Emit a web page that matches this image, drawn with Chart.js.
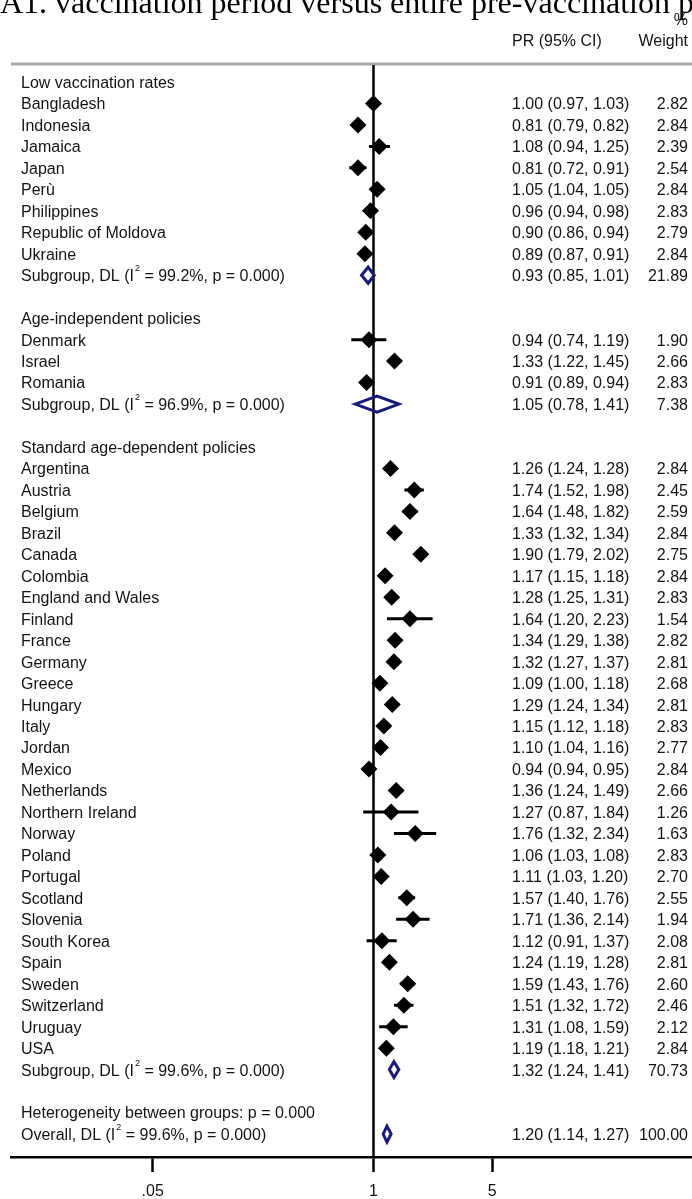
<!DOCTYPE html>
<html>
<head>
<meta charset="utf-8">
<title>Forest plot - PR</title>
<script src="https://cdn.jsdelivr.net/npm/chart.js@4.4.1/dist/chart.umd.min.js"></script>
<style>
  html, body { margin: 0; padding: 0; background: #fff; }
  #wrap { width: 692px; height: 1199px; }
</style>
</head>
<body>
<div id="wrap"><canvas id="forest" width="692" height="1199"></canvas></div>
<script>
// Données
const titleText = 'A1. vaccination period versus entire pre-vaccination p';

const rowLabels = [
    'Low vaccination rates',
    'Bangladesh', 'Indonesia', 'Jamaica', 'Japan', 'Perù', 'Philippines',
    'Republic of Moldova', 'Ukraine',
    'Subgroup, DL (I² = 99.2%, p = 0.000)',
    '',
    'Age-independent policies',
    'Denmark', 'Israel', 'Romania',
    'Subgroup, DL (I² = 96.9%, p = 0.000)',
    '',
    'Standard age-dependent policies',
    'Argentina', 'Austria', 'Belgium', 'Brazil', 'Canada', 'Colombia',
    'England and Wales', 'Finland', 'France', 'Germany', 'Greece', 'Hungary',
    'Italy', 'Jordan', 'Mexico', 'Netherlands', 'Northern Ireland', 'Norway',
    'Poland', 'Portugal', 'Scotland', 'Slovenia', 'South Korea', 'Spain',
    'Sweden', 'Switzerland', 'Uruguay', 'USA',
    'Subgroup, DL (I² = 99.6%, p = 0.000)',
    '',
    'Heterogeneity between groups: p = 0.000',
    'Overall, DL (I² = 99.6%, p = 0.000)'
];

const pr = [
    null,
    1.00, 0.81, 1.08, 0.81, 1.05, 0.96, 0.90, 0.89,
    0.93,
    null, null,
    0.94, 1.33, 0.91,
    1.05,
    null, null,
    1.26, 1.74, 1.64, 1.33, 1.90, 1.17, 1.28, 1.64, 1.34, 1.32, 1.09, 1.29,
    1.15, 1.10, 0.94, 1.36, 1.27, 1.76, 1.06, 1.11, 1.57, 1.71, 1.12, 1.24,
    1.59, 1.51, 1.31, 1.19,
    1.32,
    null, null,
    1.20
];

const lowerCI = [
    null,
    0.97, 0.79, 0.94, 0.72, 1.04, 0.94, 0.86, 0.87,
    0.85,
    null, null,
    0.74, 1.22, 0.89,
    0.78,
    null, null,
    1.24, 1.52, 1.48, 1.32, 1.79, 1.15, 1.25, 1.20, 1.29, 1.27, 1.00, 1.24,
    1.12, 1.04, 0.94, 1.24, 0.87, 1.32, 1.03, 1.03, 1.40, 1.36, 0.91, 1.19,
    1.43, 1.32, 1.08, 1.18,
    1.24,
    null, null,
    1.14
];

const upperCI = [
    null,
    1.03, 0.82, 1.25, 0.91, 1.05, 0.98, 0.94, 0.91,
    1.01,
    null, null,
    1.19, 1.45, 0.94,
    1.41,
    null, null,
    1.28, 1.98, 1.82, 1.34, 2.02, 1.18, 1.31, 2.23, 1.38, 1.37, 1.18, 1.34,
    1.18, 1.16, 0.95, 1.49, 1.84, 2.34, 1.08, 1.20, 1.76, 2.14, 1.37, 1.28,
    1.76, 1.72, 1.59, 1.21,
    1.41,
    null, null,
    1.27
];

const weights = [
    null,
    2.82, 2.84, 2.39, 2.54, 2.84, 2.83, 2.79, 2.84,
    21.89,
    null, null,
    1.90, 2.66, 2.83,
    7.38,
    null, null,
    2.84, 2.45, 2.59, 2.84, 2.75, 2.84, 2.83, 1.54, 2.82, 2.81, 2.68, 2.81,
    2.83, 2.77, 2.84, 2.66, 1.26, 1.63, 2.83, 2.70, 2.55, 1.94, 2.08, 2.81,
    2.60, 2.46, 2.12, 2.84,
    70.73,
    null, null,
    100.00
];

const tickValues = [0.05, 1, 5];
const tickLabels = ['.05', '1', '5'];

// Styles
const TEXT_FONT = '16px "Liberation Sans", Arial, sans-serif';
const TEXT_COLOR = '#141414';
const NAVY = '#1a1a78';

function isPooled(i) {
    return /^(Subgroup|Overall)/.test(rowLabels[i]);
}

// Construction des données pour Chart.js
const ciData = [];
const pointData = [];
rowLabels.forEach(function(lab, i) {
    if (pr[i] === null || isPooled(i)) return;
    ciData.push({ x: lowerCI[i], y: i });
    ciData.push({ x: upperCI[i], y: i });
    ciData.push({ x: upperCI[i], y: null });
    pointData.push({ x: pr[i], y: i });
});

// Texte avec I² en exposant
function drawLabel(ctx, text, x, y) {
    const parts = text.split('²');
    ctx.font = TEXT_FONT;
    ctx.fillText(parts[0], x, y);
    if (parts.length < 2) return;
    let cx = x + ctx.measureText(parts[0]).width + 1;
    ctx.font = '9px "Liberation Sans", Arial, sans-serif';
    ctx.fillText('2', cx, y - 8);
    cx += ctx.measureText('2').width;
    ctx.font = TEXT_FONT;
    ctx.fillText(parts[1], cx, y);
}

const forestPlugin = {
    id: 'forest',
    beforeDatasetsDraw(chart) {
        const ctx = chart.ctx;
        const area = chart.chartArea;
        const xs = chart.scales.x;
        ctx.save();
        // ligne grise d'en-tête
        ctx.strokeStyle = '#a9a9a9';
        ctx.lineWidth = 3;
        ctx.beginPath();
        ctx.moveTo(area.left, area.top);
        ctx.lineTo(area.right, area.top);
        ctx.stroke();
        // ligne de référence à 1
        const x1 = xs.getPixelForValue(1);
        ctx.strokeStyle = '#000';
        ctx.lineWidth = 2.5;
        ctx.beginPath();
        ctx.moveTo(x1, area.top + 1);
        ctx.lineTo(x1, area.bottom);
        ctx.stroke();
        ctx.restore();
    },
    afterDatasetsDraw(chart) {
        const ctx = chart.ctx;
        const xs = chart.scales.x;
        const ys = chart.scales.y;
        ctx.save();

        // losanges des estimations poolées
        ctx.strokeStyle = NAVY;
        ctx.lineWidth = 3;
        ctx.lineJoin = 'miter';
        rowLabels.forEach(function(lab, i) {
            if (pr[i] === null || !isPooled(i)) return;
            const xl = xs.getPixelForValue(lowerCI[i]);
            const xc = xs.getPixelForValue(pr[i]);
            const xr = xs.getPixelForValue(upperCI[i]);
            const yc = ys.getPixelForValue(i);
            ctx.beginPath();
            ctx.moveTo(xl, yc);
            ctx.lineTo(xc, yc - 8);
            ctx.lineTo(xr, yc);
            ctx.lineTo(xc, yc + 8);
            ctx.closePath();
            ctx.stroke();
        });

        // titre (coupé en haut)
        ctx.fillStyle = '#000';
        ctx.font = '32px "Liberation Serif", "DejaVu Serif", serif';
        ctx.textBaseline = 'alphabetic';
        ctx.textAlign = 'left';
        ctx.fillText(titleText, 0, 13);

        // en-têtes de colonnes
        ctx.fillStyle = TEXT_COLOR;
        ctx.font = TEXT_FONT;
        ctx.textBaseline = 'middle';
        ctx.textAlign = 'left';
        ctx.fillText('PR (95% CI)', 512, 42);
        ctx.textAlign = 'right';
        ctx.fillText('%', 688, 21);
        ctx.fillText('Weight', 688, 42);

        // libellés, valeurs et poids
        rowLabels.forEach(function(lab, i) {
            const y = ys.getPixelForValue(i) + 1.5;
            ctx.textAlign = 'left';
            if (lab) drawLabel(ctx, lab, 21, y);
            if (pr[i] === null) return;
            ctx.font = TEXT_FONT;
            ctx.fillText(pr[i].toFixed(2) + ' (' + lowerCI[i].toFixed(2) + ', ' + upperCI[i].toFixed(2) + ')', 512, y);
            ctx.textAlign = 'right';
            ctx.fillText(weights[i].toFixed(2), 688, y);
        });
        ctx.restore();
    }
};

new Chart(document.getElementById('forest'), {
    type: 'scatter',
    data: {
        datasets: [
            {
                type: 'line',
                label: 'IC 95%',
                data: ciData,
                borderColor: '#000',
                borderWidth: 3,
                pointRadius: 0,
                spanGaps: false,
                tension: 0
            },
            {
                label: 'PR',
                data: pointData,
                pointStyle: 'rectRot',
                pointRadius: 8.5,
                backgroundColor: '#000',
                borderWidth: 0
            }
        ]
    },
    options: {
        responsive: false,
        animation: false,
        events: [],
        layout: { autoPadding: false, padding: { top: 64, left: 11, right: 0, bottom: 0 } },
        plugins: {
            legend: { display: false },
            tooltip: { enabled: false }
        },
        scales: {
            x: {
                type: 'logarithmic',
                position: 'bottom',
                min: 0.00731,
                max: 75.3,
                afterBuildTicks(scale) {
                    scale.ticks = tickValues.map(function(v) { return { value: v }; });
                },
                afterFit(scale) {
                    scale.height = 42;
                },
                grid: {
                    drawOnChartArea: false,
                    tickLength: 15,
                    tickColor: '#000',
                    tickWidth: 2.5
                },
                border: { color: '#000', width: 2.5 },
                ticks: {
                    autoSkip: false,
                    maxRotation: 0,
                    padding: 10,
                    color: TEXT_COLOR,
                    font: { family: '"Liberation Sans", Arial, sans-serif', size: 16 },
                    callback: function(value) {
                        const k = tickValues.indexOf(value);
                        return k >= 0 ? tickLabels[k] : '';
                    }
                }
            },
            y: {
                type: 'linear',
                display: false,
                reverse: true,
                min: -0.838,
                max: 50.07
            }
        }
    },
    plugins: [forestPlugin]
});
</script>
</body>
</html>
